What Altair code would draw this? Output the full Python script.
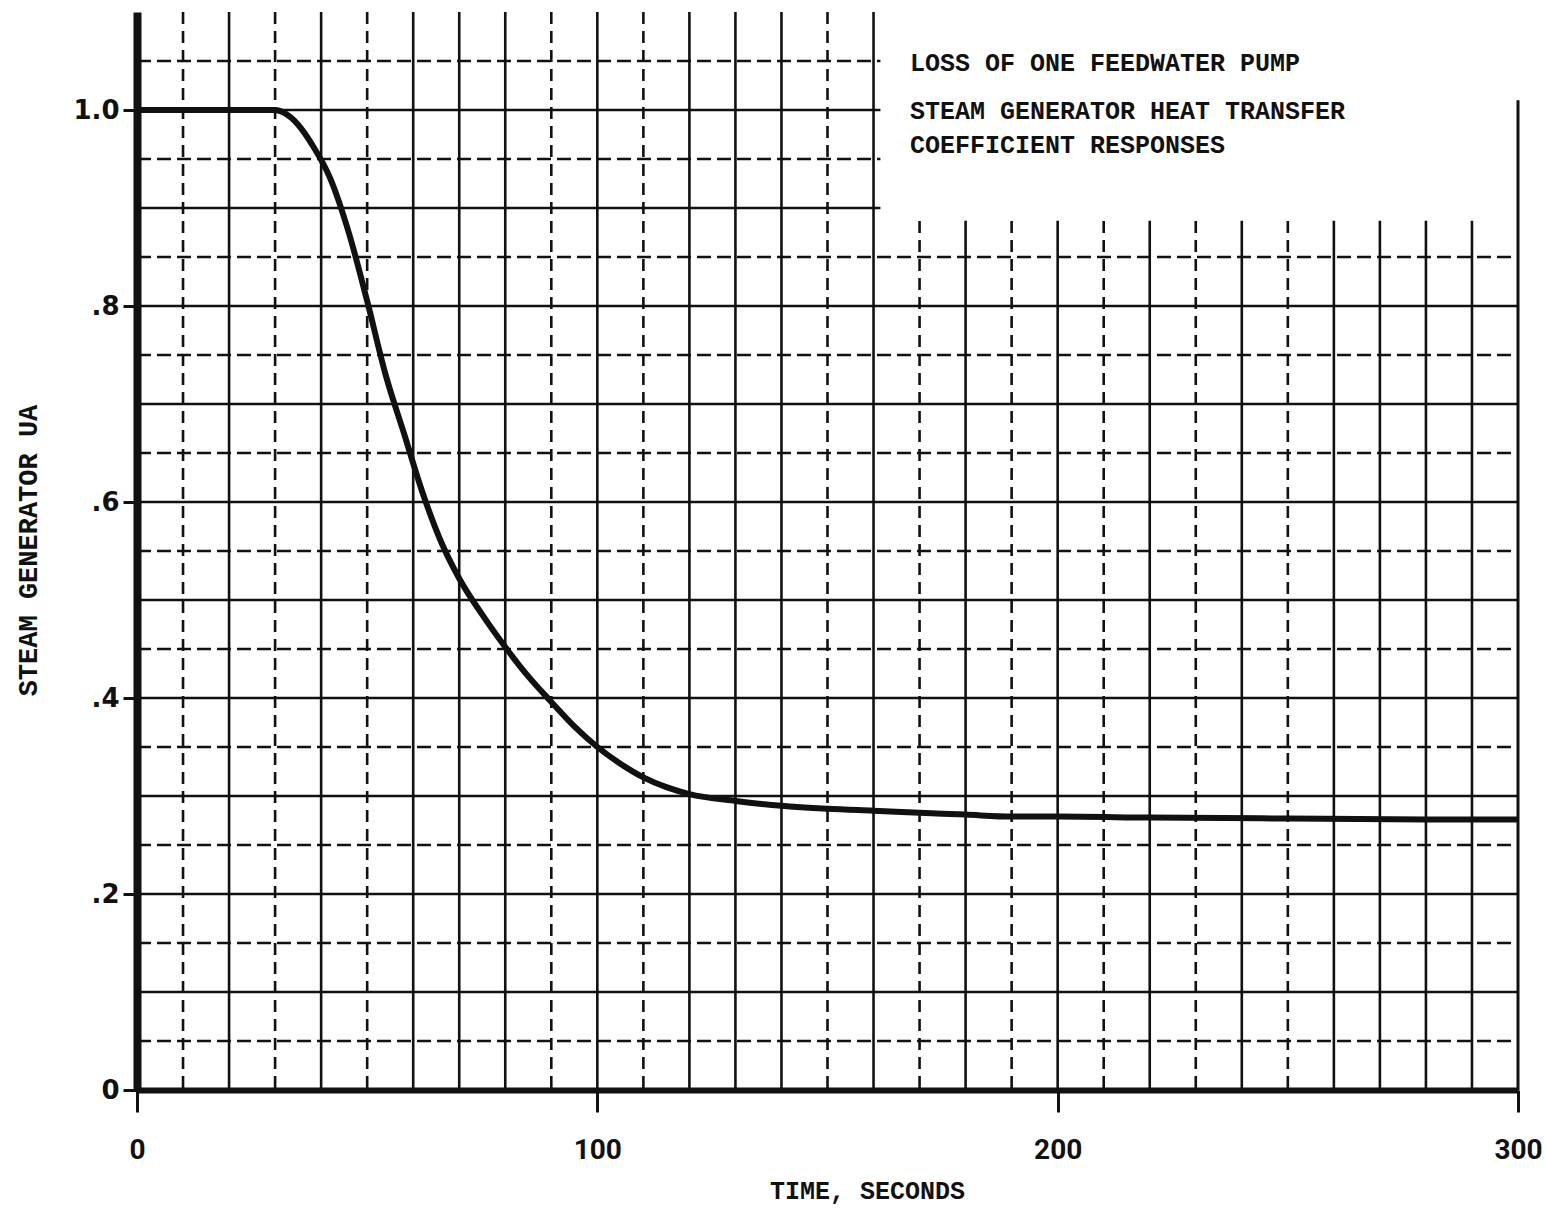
import altair as alt
import pandas as pd

# Steam generator UA (normalised) after the loss of one feedwater pump
time_s = [0, 10, 20, 30, 32, 35, 38, 42, 46, 50, 54, 58, 62, 66, 70, 75, 80,
          85, 90, 95, 100, 105, 110, 115, 120, 130, 140, 150, 160, 170, 180,
          190, 200, 220, 250, 280, 300]
ua = [1.0, 1.0, 1.0, 1.0, 0.997, 0.985, 0.965, 0.93, 0.875, 0.805, 0.73, 0.67,
      0.61, 0.56, 0.522, 0.485, 0.452, 0.422, 0.396, 0.371, 0.35, 0.333, 0.319,
      0.309, 0.302, 0.295, 0.29, 0.287, 0.285, 0.283, 0.281, 0.279, 0.279,
      0.278, 0.277, 0.276, 0.276]

# graph-paper rulings
h_solid = [0.1, 0.2, 0.3, 0.4, 0.5, 0.6, 0.7, 0.8, 0.9, 1.0]
h_dashed = [0.05, 0.15, 0.25, 0.35, 0.45, 0.55, 0.65, 0.75, 0.85, 0.95, 1.05]
v_all = list(range(10, 300, 10))
v_dashed = [10, 30, 50, 90, 110, 150, 170, 190, 210, 230, 250]
v_solid = [v for v in v_all if v not in v_dashed]

x_ticks = [0, 100, 200, 300]
y_ticks = [0, 0.2, 0.4, 0.6, 0.8, 1.0]

title_lines = [
    "LOSS OF ONE FEEDWATER PUMP",
    "STEAM GENERATOR HEAT TRANSFER",
    "COEFFICIENT RESPONSES",
]

# blank label box in the upper right of the sheet
box_x = [161.5, 300]
box_y = [0.887, 1.1]

W, H = 1381, 1078
INK = "#111111"
MONO = "Liberation Mono"

xs = alt.Scale(domain=[0, 300], nice=False, zero=False)
ys = alt.Scale(domain=[0, 1.1], nice=False, zero=False)

y_label_expr = (
    "datum.value == 0 ? '0' : (datum.value >= 1 ? format(datum.value, '.1f') : "
    "replace(format(datum.value, '.1f'), '0.', '.'))"
)

x_axis = alt.Axis(
    values=x_ticks, format="d", title="TIME, SECONDS",
    domainColor=INK, domainWidth=6, tickColor=INK, tickWidth=3,
    tickSize=22, labelPadding=24, labelFont="Roboto",
    labelFontWeight="bold", labelFontSize=28, labelColor=INK,
    labelFlush=False, titleFont=MONO, titleFontWeight="bold",
    titleFontSize=25, titleColor=INK, titleX=730, titleY=100,
    titleBaseline="middle", titleAlign="center", grid=False, zindex=1,
)
y_axis = alt.Axis(
    values=y_ticks, labelExpr=y_label_expr, title="STEAM GENERATOR UA",
    domainColor=INK, domainWidth=8, tickColor=INK, tickWidth=3,
    tickSize=14, labelPadding=4, labelFont="DejaVu Sans",
    labelFontWeight="bold", labelFontSize=26, labelColor=INK,
    labelFlush=False, titleFont=MONO, titleFontWeight="bold",
    titleFontSize=27, titleColor=INK, titleX=-109, titleY=538,
    titleAngle=-90, titleBaseline="middle", titleAlign="center",
    grid=False, zindex=1,
)

curve_df = pd.DataFrame({"t": time_s, "ua": ua})


def hrules(vals, dash=None):
    m = alt.Chart(pd.DataFrame({"y": vals})).mark_rule(
        color=INK, strokeWidth=2.6, **({"strokeDash": dash} if dash else {})
    )
    return m.encode(
        y=alt.Y("y:Q", scale=ys, axis=y_axis),
        x=alt.value(0),
        x2=alt.value(W),
    )


def vrules(vals, dash=None):
    m = alt.Chart(pd.DataFrame({"x": vals})).mark_rule(
        color=INK, strokeWidth=2.6, **({"strokeDash": dash} if dash else {})
    )
    return m.encode(
        x=alt.X("x:Q", scale=xs, axis=x_axis),
        y=alt.value(0),
        y2=alt.value(H),
    )


grid = (
    hrules(h_solid)
    + hrules(h_dashed, [14, 6])
    + vrules(v_solid)
    + vrules(v_dashed, [12, 7])
)

box = alt.Chart(
    pd.DataFrame({"x": [box_x[0]], "x2": [box_x[1]], "y": [box_y[0]], "y2": [box_y[1]]})
).mark_rect(color="white").encode(
    x=alt.X("x:Q", scale=xs, axis=x_axis),
    x2="x2:Q",
    y=alt.Y("y:Q", scale=ys, axis=y_axis),
    y2="y2:Q",
)

right_edge = alt.Chart(pd.DataFrame({"x": [300], "y": [0], "y2": [1.01]})).mark_rule(
    color=INK, strokeWidth=3
).encode(
    x=alt.X("x:Q", scale=xs, axis=x_axis),
    y=alt.Y("y:Q", scale=ys, axis=y_axis),
    y2="y2:Q",
)

texts = []
for line, ypix in zip(title_lines, [51, 99, 133]):
    texts.append(
        alt.Chart(pd.DataFrame({"s": [line]})).mark_text(
            align="left", baseline="middle", font=MONO, fontWeight="bold",
            fontSize=25, color=INK,
        ).encode(text="s:N", x=alt.value(773), y=alt.value(ypix))
    )

curve = alt.Chart(curve_df).mark_line(
    color=INK, strokeWidth=6, interpolate="monotone"
).encode(
    x=alt.X("t:Q", scale=xs, axis=x_axis),
    y=alt.Y("ua:Q", scale=ys, axis=y_axis),
)

chart = alt.layer(grid, box, right_edge, *texts, curve).properties(
    width=W,
    height=H,
    padding={"left": 137, "top": 12, "right": 27, "bottom": 122},
    autosize=alt.AutoSizeParams(type="none"),
    background="white",
).configure_view(stroke=None)

chart.save("out.html", embed_options={"renderer": "svg", "actions": False})
